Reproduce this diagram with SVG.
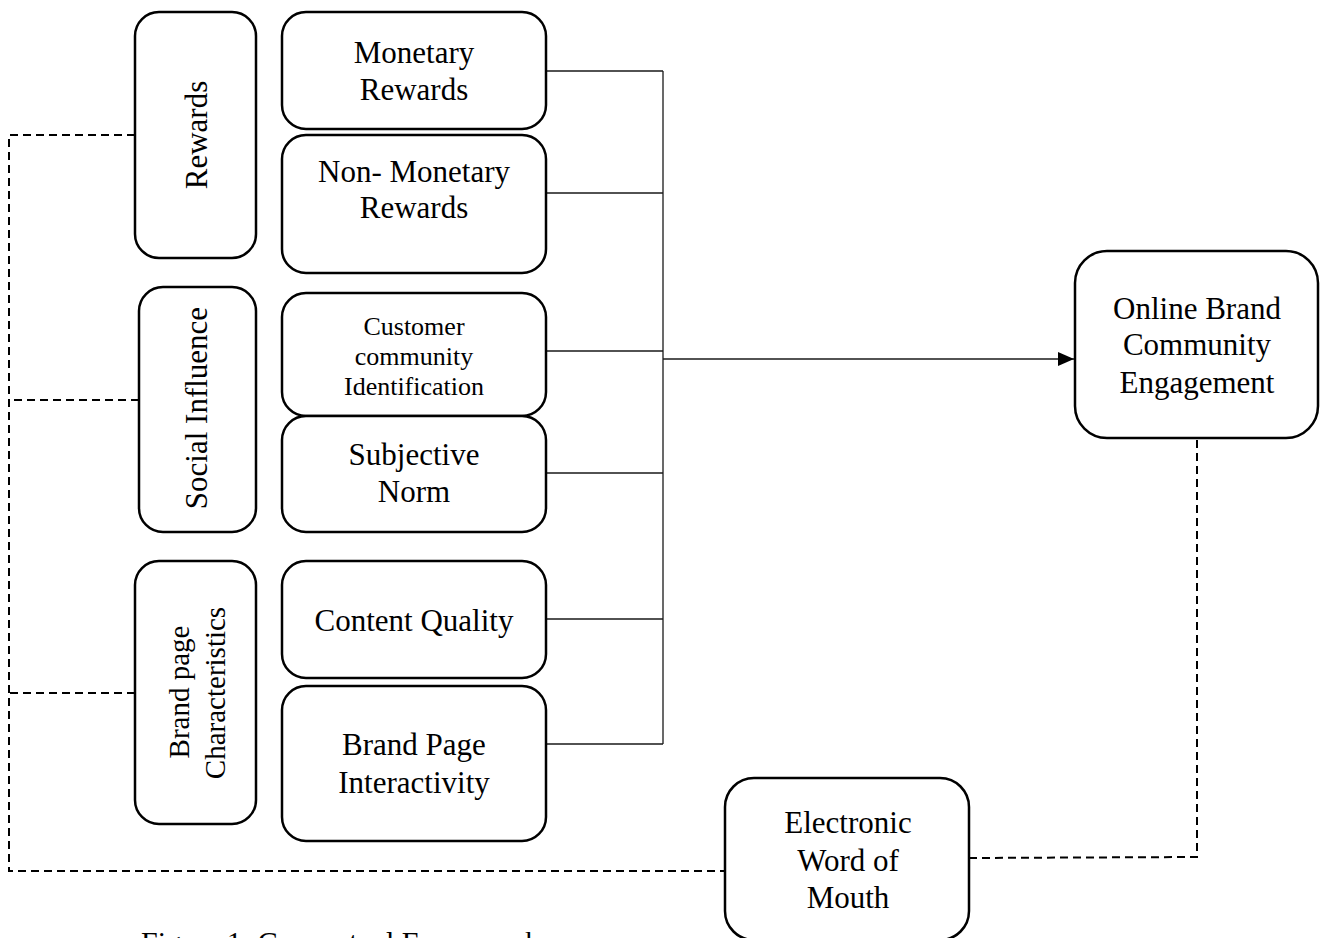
<svg xmlns="http://www.w3.org/2000/svg" width="1322" height="938" viewBox="0 0 1322 938">
<style>
.box{fill:#fff;stroke:#000;stroke-width:2.5}
.t{font-family:"Liberation Serif","Times New Roman",serif;font-size:31px;fill:#000;text-anchor:middle}
.ts{font-size:26px}
.tm{font-size:29px}
.solid{fill:none;stroke:#1a1a1a;stroke-width:1.3}
.dash{fill:none;stroke:#000;stroke-width:2;stroke-dasharray:8 5}
</style>
<defs>
<marker id="arr" markerWidth="16" markerHeight="14" refX="16" refY="7" orient="auto" markerUnits="userSpaceOnUse">
<path d="M0,0 L16,7 L0,14 Z" fill="#000"/>
</marker>
</defs>
<rect width="1322" height="938" fill="#fff"/>
<g id="connectors">
<path class="solid" d="M546,71 H663 M546,193 H663 M546,351 H663 M546,473 H663 M546,619 H663 M546,744 H663 M663,71 V744"/>
<line class="solid" x1="663" y1="359" x2="1074" y2="359" marker-end="url(#arr)"/>
<path class="dash" d="M135,135 H9 V871 H725 M139,400 H9 M135,693 H9"/>
<path class="dash" d="M969,858 L1197,857 V438"/>
</g>
<g id="rewards">
<rect class="box" x="135" y="12" width="121" height="246" rx="24"/>
<text class="t" transform="translate(207,135) rotate(-90)">Rewards</text>
</g>
<g id="monetary">
<rect class="box" x="282" y="12" width="264" height="117" rx="24"/>
<text class="t" x="414" y="63">Monetary</text>
<text class="t" x="414" y="100">Rewards</text>
</g>
<g id="nonmonetary">
<rect class="box" x="282" y="135" width="264" height="138" rx="24"/>
<text class="t" x="414" y="182">Non- Monetary</text>
<text class="t" x="414" y="218">Rewards</text>
</g>
<g id="social">
<rect class="box" x="139" y="287" width="117" height="245" rx="24"/>
<text class="t" transform="translate(207,408) rotate(-90)">Social Influence</text>
</g>
<g id="customer">
<rect class="box" x="282" y="293" width="264" height="123" rx="24"/>
<text class="t ts" x="414" y="335">Customer</text>
<text class="t ts" x="414" y="365">community</text>
<text class="t ts" x="414" y="395">Identification</text>
</g>
<g id="subjective">
<rect class="box" x="282" y="416" width="264" height="116" rx="24"/>
<text class="t" x="414" y="465">Subjective</text>
<text class="t" x="414" y="502">Norm</text>
</g>
<g id="brandpage">
<rect class="box" x="135" y="561" width="121" height="263" rx="24"/>
<text class="t tm" transform="translate(189,692) rotate(-90)">Brand page</text>
<text class="t tm" transform="translate(225,693) rotate(-90)">Characteristics</text>
</g>
<g id="content">
<rect class="box" x="282" y="561" width="264" height="117" rx="24"/>
<text class="t" x="414" y="631">Content Quality</text>
</g>
<g id="interactivity">
<rect class="box" x="282" y="686" width="264" height="155" rx="24"/>
<text class="t" x="414" y="755">Brand Page</text>
<text class="t" x="414" y="793">Interactivity</text>
</g>
<g id="obce">
<rect class="box" x="1075" y="251" width="243" height="187" rx="32"/>
<text class="t" x="1197" y="319">Online Brand</text>
<text class="t" x="1197" y="355">Community</text>
<text class="t" x="1197" y="393">Engagement</text>
</g>
<g id="ewom">
<rect class="box" x="725" y="778" width="244" height="162" rx="29"/>
<text class="t" x="848" y="833">Electronic</text>
<text class="t" x="848" y="871">Word of</text>
<text class="t" x="848" y="908">Mouth</text>
</g>
<text class="t" style="text-anchor:start;font-size:30px" x="141" y="952">Figure 1: Conceptual Framework</text>
</svg>
